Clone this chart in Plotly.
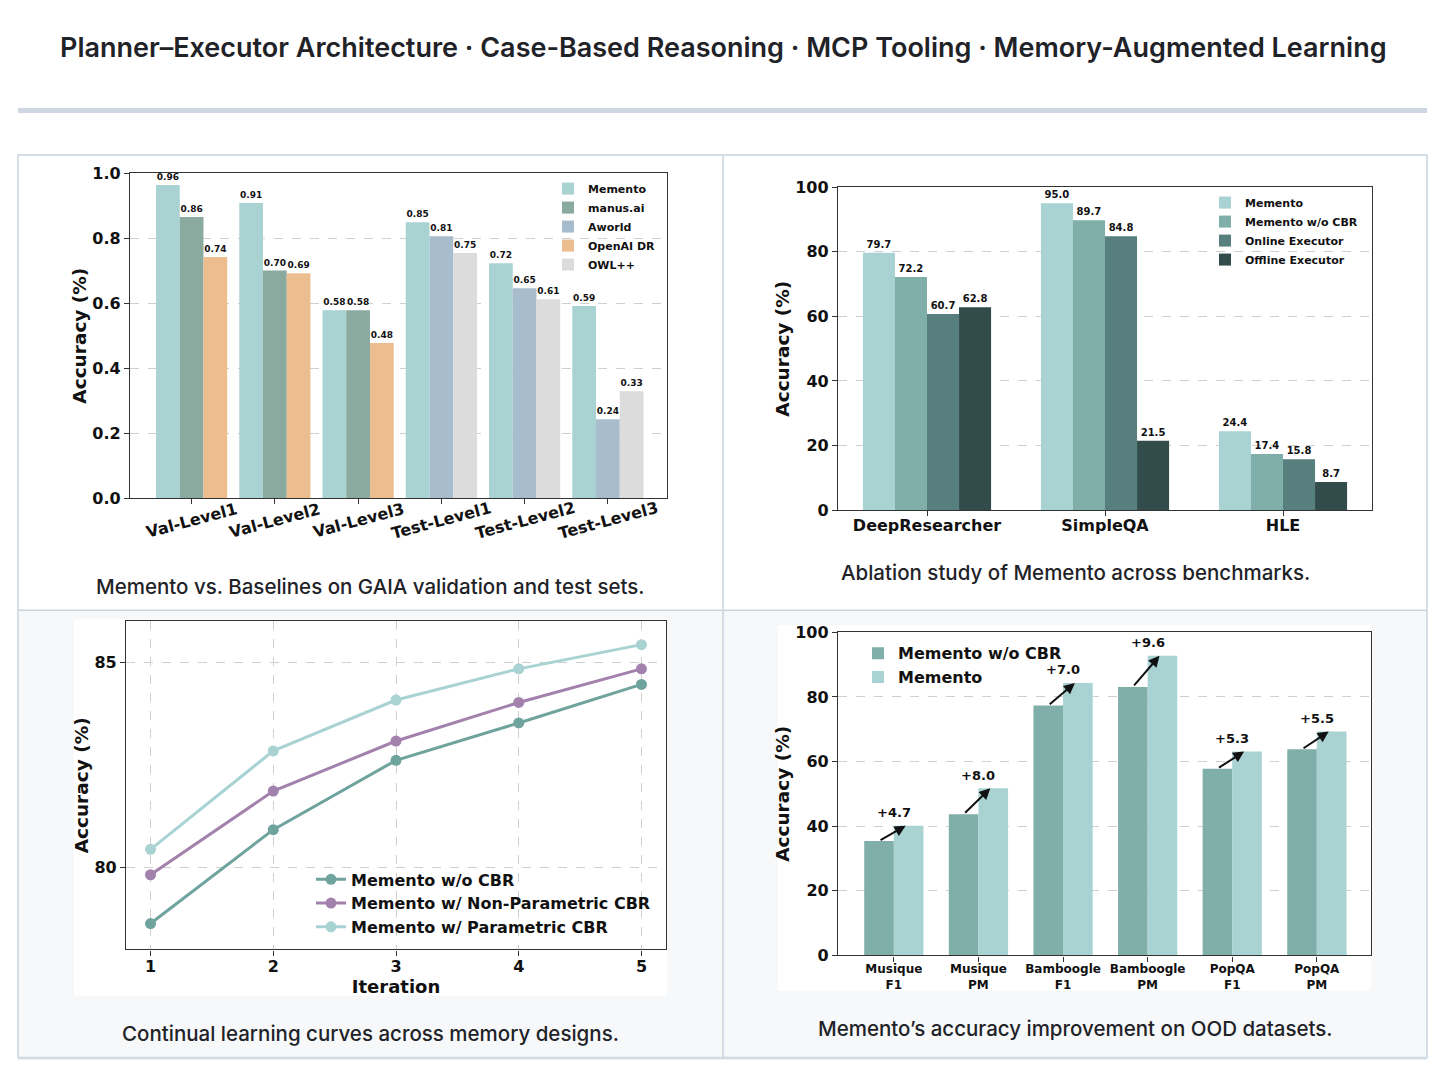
import plotly.graph_objects as go

W, H = 1456, 1081
# empirical page offset / scale of the rendered figure
OX, OY, SY = 8.0, 17.0, 0.982


def px(x):
    return (x - OX) / W


def py(y):
    return 1 - (y - OY) / (SY * H)


# ---------------- data ----------------
# Panel 1: GAIA
gaia_levels = ["Val-Level1", "Val-Level2", "Val-Level3", "Test-Level1", "Test-Level2", "Test-Level3"]
val_levels = gaia_levels[:3]
test_levels = gaia_levels[3:]
gaia_memento = [0.963, 0.908, 0.578, 0.849, 0.723, 0.591]
gaia_manus = [0.865, 0.700, 0.578]
gaia_openai = [0.742, 0.692, 0.477]
gaia_aworld = [0.806, 0.646, 0.243]
gaia_owl = [0.754, 0.612, 0.329]

# Panel 2: ablation
abl_benchmarks = ["DeepResearcher", "SimpleQA", "HLE"]
abl_memento = [79.7, 95.0, 24.4]
abl_wo_cbr = [72.2, 89.7, 17.4]
abl_online = [60.7, 84.8, 15.8]
abl_offline = [62.8, 21.5, 8.7]

# Panel 3: continual learning
iterations = [1, 2, 3, 4, 5]
cl_wo_cbr = [78.63, 80.92, 82.61, 83.52, 84.46]
cl_nonparam = [79.82, 81.86, 83.08, 84.02, 84.84]
cl_param = [80.44, 82.84, 84.08, 84.84, 85.43]

# Panel 4: OOD
ood_datasets = ["Musique<br>F1", "Musique<br>PM", "Bamboogle<br>F1", "Bamboogle<br>PM", "PopQA<br>F1", "PopQA<br>PM"]
ood_wo_cbr = [35.4, 43.7, 77.3, 83.1, 57.8, 63.8]
ood_memento = [40.1, 51.7, 84.3, 92.7, 63.1, 69.3]
ood_gain = ["+4.7", "+8.0", "+7.0", "+9.6", "+5.3", "+5.5"]

# ---------------- style ----------------
CF = "DejaVu Sans"
UI = "Inter"
C_MEM = "#a9d2d3"
C_MANUS = "#8aa99f"
C_AWORLD = "#a7bccd"
C_OPENAI = "#ecbd8f"
C_OWL = "#dcdcdc"
C_WO = "#80aea9"
C_ONLINE = "#567f7d"
C_OFFLINE = "#314c4b"
L_WO = "#6fa39e"
L_NP = "#a381ad"
L_P = "#a9d2d3"
AX = "#333333"
GRID = "#cfcfcf"

fig = go.Figure()


def bar(x, y, color, name, xa, ya, width, offset, legend, tsize, fmt):
    fig.add_trace(go.Bar(
        x=x, y=y, name=name, marker=dict(color=color, line=dict(width=0)),
        width=width, offset=offset, xaxis=xa, yaxis=ya, legend=legend,
        text=[fmt.format(v) for v in y], textposition="outside",
        textfont=dict(family=CF, size=tsize, color="#111", weight="bold"),
        cliponaxis=False, hoverinfo="skip",
    ))


# Panel 1
w1 = 0.285
bar(gaia_levels, gaia_memento, C_MEM, "Memento", "x", "y", w1, -1.5 * w1, "legend", 9, "{:.2f}")
bar(val_levels, gaia_manus, C_MANUS, "manus.ai", "x", "y", w1, -0.5 * w1, "legend", 9, "{:.2f}")
bar(test_levels, gaia_aworld, C_AWORLD, "Aworld", "x", "y", w1, -0.5 * w1, "legend", 9, "{:.2f}")
bar(val_levels, gaia_openai, C_OPENAI, "OpenAI DR", "x", "y", w1, 0.5 * w1, "legend", 9, "{:.2f}")
bar(test_levels, gaia_owl, C_OWL, "OWL++", "x", "y", w1, 0.5 * w1, "legend", 9, "{:.2f}")

# Panel 2
w2 = 0.18
bar(abl_benchmarks, abl_memento, C_MEM, "Memento", "x2", "y2", w2, -2 * w2, "legend2", 10, "{:.1f}")
bar(abl_benchmarks, abl_wo_cbr, C_WO, "Memento w/o CBR", "x2", "y2", w2, -1 * w2, "legend2", 10, "{:.1f}")
bar(abl_benchmarks, abl_online, C_ONLINE, "Online Executor", "x2", "y2", w2, 0, "legend2", 10, "{:.1f}")
bar(abl_benchmarks, abl_offline, C_OFFLINE, "Offline Executor", "x2", "y2", w2, w2, "legend2", 10, "{:.1f}")

# Panel 3
for ys, col, nm in [(cl_wo_cbr, L_WO, "Memento w/o CBR"),
                    (cl_nonparam, L_NP, "Memento w/ Non-Parametric CBR"),
                    (cl_param, L_P, "Memento w/ Parametric CBR")]:
    fig.add_trace(go.Scatter(
        x=iterations, y=ys, name=nm, mode="lines+markers",
        line=dict(color=col, width=3), marker=dict(color=col, size=11),
        xaxis="x3", yaxis="y3", legend="legend3", cliponaxis=False, hoverinfo="skip",
    ))

# Panel 4
w4 = 0.35
for ys, col, nm, off in [(ood_wo_cbr, C_WO, "Memento w/o CBR", -w4), (ood_memento, C_MEM, "Memento", 0)]:
    fig.add_trace(go.Bar(
        x=ood_datasets, y=ys, name=nm, marker=dict(color=col, line=dict(width=0)),
        width=w4, offset=off, xaxis="x4", yaxis="y4", legend="legend4", hoverinfo="skip",
    ))

annotations = []
for i, (a, b, g) in enumerate(zip(ood_wo_cbr, ood_memento, ood_gain)):
    annotations.append(dict(
        x=i + 0.14, y=b, ax=i - w4 / 2, ay=a, xref="x4", yref="y4", axref="x4", ayref="y4",
        showarrow=True, arrowhead=2, arrowsize=1.1, arrowwidth=2, arrowcolor="#111", text="",
        standoff=0, startstandoff=0,
    ))
    annotations.append(dict(
        x=i, y=b, xref="x4", yref="y4", text=g, showarrow=False, yshift=13, yanchor="middle",
        xanchor="center", font=dict(family=CF, size=13, color="#111", weight="bold"),
    ))

# Panel 1 rotated category labels
for c in gaia_levels:
    annotations.append(dict(
        x=c, y=py(520), xref="x", yref="paper", text=c, showarrow=False, textangle=-15,
        font=dict(family=CF, size=16, color="#111", weight="bold"), xanchor="center", yanchor="middle",
    ))

# Title and captions
annotations.append(dict(x=px(723), y=py(47), xref="paper", yref="paper", showarrow=False,
                        xanchor="center", yanchor="middle",
                        text="Planner–Executor Architecture · Case-Based Reasoning · MCP Tooling · Memory-Augmented Learning",
                        font=dict(family=UI, size=27, color="#1f2328", weight=600)))
for txt, cx, cy in [("Memento vs. Baselines on GAIA validation and test sets.", 370.5, 586),
                    ("Ablation study of Memento across benchmarks.", 1075, 572),
                    ("Continual learning curves across memory designs.", 370.5, 1033),
                    ("Memento’s accuracy improvement on OOD datasets.", 1075, 1028)]:
    annotations.append(dict(x=px(cx), y=py(cy), xref="paper", yref="paper", showarrow=False, text=txt,
                            xanchor="center", yanchor="middle",
                            font=dict(family=UI, size=20.5, color="#1f2328", weight=500)))

# Shapes (page layout)
BORDER = "#c9d5df"
shapes = [
    dict(type="rect", xref="paper", yref="paper", x0=px(18), x1=px(1427), y0=py(113), y1=py(108),
         fillcolor="#cfd8e2", line=dict(width=0), layer="below"),
    dict(type="rect", xref="paper", yref="paper", x0=px(18), x1=px(1427), y0=py(1057), y1=py(610),
         fillcolor="#f6f8fa", line=dict(width=0), layer="below"),
    dict(type="rect", xref="paper", yref="paper", x0=px(74), x1=px(667), y0=py(995), y1=py(619),
         fillcolor="white", line=dict(width=0), layer="below"),
    dict(type="rect", xref="paper", yref="paper", x0=px(778), x1=px(1371), y0=py(990), y1=py(625),
         fillcolor="white", line=dict(width=0), layer="below"),
    dict(type="rect", xref="paper", yref="paper", x0=px(18), x1=px(1427), y0=py(1057), y1=py(155),
         line=dict(color=BORDER, width=1.5), layer="below"),
    dict(type="line", xref="paper", yref="paper", x0=px(723), x1=px(723), y0=py(1057), y1=py(155),
         line=dict(color=BORDER, width=1.5), layer="below"),
    dict(type="line", xref="paper", yref="paper", x0=px(18), x1=px(1427), y0=py(610), y1=py(610),
         line=dict(color=BORDER, width=1.5), layer="below"),
    dict(type="line", xref="paper", yref="paper", x0=px(18), x1=px(1427), y0=py(1058), y1=py(1058),
         line=dict(color="#d5dde5", width=2), layer="below"),
]


def axis_style(**kw):
    d = dict(showline=True, mirror=True, linecolor=AX, linewidth=1.3, ticks="outside", ticklen=5,
             tickwidth=1.2, tickcolor=AX, zeroline=False,
             tickfont=dict(family=CF, size=16, color="#111", weight="bold"))
    d.update(kw)
    return d


def ytitle(size=18.5):
    return dict(text="Accuracy (%)", standoff=0,
                font=dict(family=CF, size=size, color="#111", weight="bold"))


def legend_font(s):
    return dict(family=CF, size=s, color="#111", weight="bold")


fig.update_layout(
    width=W, height=H, margin=dict(l=0, r=0, t=0, b=0),
    paper_bgcolor="white", plot_bgcolor="rgba(0,0,0,0)",
    barmode="overlay", showlegend=True,
    shapes=shapes, annotations=annotations,
    xaxis=axis_style(domain=[px(130), px(667)], anchor="y", type="category",
                     range=[-0.74, 5.71], showgrid=False, showticklabels=False),
    yaxis=axis_style(domain=[py(498), py(173)], anchor="x", range=[0, 1.0], dtick=0.2, tickformat=".1f",
                     showgrid=True, gridcolor=GRID, griddash="dash", gridwidth=1, title=ytitle()),
    xaxis2=axis_style(domain=[px(838), px(1372)], anchor="y2", type="category",
                      range=[-0.5, 2.5], showgrid=False, ticklabelstandoff=-5,
                      tickfont=dict(family=CF, size=16, color="#111", weight="bold")),
    yaxis2=axis_style(domain=[py(510), py(187)], anchor="x2", range=[0, 100], dtick=20,
                      showgrid=True, gridcolor=GRID, griddash="dash", gridwidth=1, title=ytitle()),
    xaxis3=axis_style(domain=[px(126), px(666)], anchor="y3", range=[0.8, 5.2], tickvals=iterations,
                      showgrid=True, gridcolor=GRID, griddash="dash", gridwidth=1, ticklabelstandoff=-3,
                      title=dict(text="Iteration", standoff=2,
                                 font=dict(family=CF, size=18, color="#111", weight="bold"))),
    yaxis3=axis_style(domain=[py(949), py(621)], anchor="x3", range=[78, 86], tickvals=[80, 85],
                      showgrid=True, gridcolor=GRID, griddash="dash", gridwidth=1, title=ytitle()),
    xaxis4=axis_style(domain=[px(838), px(1371)], anchor="y4", type="category",
                      range=[-0.66, 5.64], showgrid=False, ticklabelstandoff=-3,
                      tickfont=dict(family=CF, size=12, color="#111", weight="bold")),
    yaxis4=axis_style(domain=[py(955), py(632)], anchor="x4", range=[0, 100], dtick=20,
                      showgrid=True, gridcolor=GRID, griddash="dash", gridwidth=1, title=ytitle()),
    legend=dict(x=px(548), y=py(174), xanchor="left", yanchor="top", bgcolor="rgba(0,0,0,0)",
                font=legend_font(11), tracegroupgap=0),
    legend2=dict(x=px(1205), y=py(188), xanchor="left", yanchor="top", bgcolor="rgba(0,0,0,0)",
                 font=legend_font(11), tracegroupgap=0),
    legend3=dict(x=px(311), y=py(862), xanchor="left", yanchor="top", bgcolor="rgba(0,0,0,0)",
                 font=legend_font(16), tracegroupgap=0),
    legend4=dict(x=px(858), y=py(636), xanchor="left", yanchor="top", bgcolor="rgba(0,0,0,0)",
                 font=legend_font(16), tracegroupgap=0),
)

fig.write_html("out.html")
